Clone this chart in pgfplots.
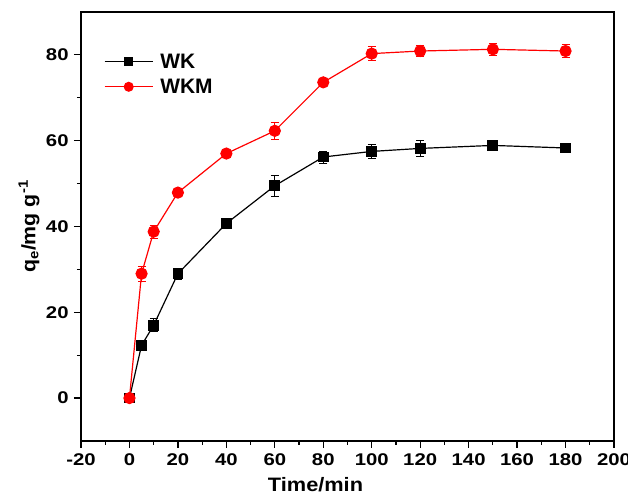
\documentclass[border=0pt]{standalone}
\usepackage{pgfplots}
\pgfplotsset{compat=1.18}
\usepackage{fontspec}
\setmainfont{Liberation Sans}
\begin{document}
\begin{tikzpicture}
\begin{axis}[
  scale only axis, width=533bp, height=429bp,
  xmin=-20, xmax=200, ymin=-10, ymax=90,
  xtick={-20,0,...,200}, ytick={0,20,...,80},
  minor x tick num=1, minor y tick num=1,
  tick align=outside, tick pos=left,
  major tick length=7bp, minor tick length=4bp,
  every tick/.style={black, line width=1.2pt},
  axis line style={line width=1.2pt},
  ticklabel style={font=\fontsize{17}{17}\selectfont\bfseries, xscale=1.2},
  xticklabel style={yshift=-2bp},
  yticklabel style={xshift=-1bp},
  /pgf/number format/assume math mode=true,
  xlabel={\fontsize{19.5}{19.5}\selectfont\bfseries Time/min},
  ylabel={\fontsize{19.5}{19.5}\selectfont\bfseries q\textsubscript{e}/mg g\textsuperscript{-1}},
  xlabel style={at={(axis description cs:0.44,0)}, anchor=base, yshift=-51bp, xscale=1.12},
  ylabel style={at={(axis description cs:0,0.5)}, anchor=center, yshift=52bp, xscale=1.1},
  legend style={draw=none, fill=none, inner sep=0pt, at={(0.043,0.905)}, anchor=north west,
    font=\fontsize{21}{21}\selectfont\bfseries, row sep=7bp,
    nodes={inner sep=1bp},
    /tikz/every odd column/.append style={column sep=6bp}},
  legend cell align=left,
  legend image code/.code={\draw[#1, mark options={scale=0.8}] plot coordinates {(0bp,0bp) (24bp,0bp) (48bp,0bp)};},
  legend image post style={mark repeat=2, mark phase=2},
]
\addplot[black, line width=1.2pt, mark=square*, mark size=4.8bp,
  error bars/.cd, y dir=both, y explicit, error bar style={line width=0.9pt}, error mark options={rotate=90, mark size=4bp, line width=0.9pt}]
  coordinates {
  (0,0) +- (0,0.3)
  (5,12.3) +- (0,0.9)
  (10,17.0) +- (0,1.5)
  (20,29.0) +- (0,1.3)
  (40,40.7) +- (0,1.1)
  (60,49.5) +- (0,2.4)
  (80,56.2) +- (0,1.4)
  (100,57.5) +- (0,1.7)
  (120,58.2) +- (0,1.9)
  (150,58.9) +- (0,0.6)
  (180,58.3) +- (0,0.6)
};
\addlegendentry{\fontsize{21}{21}\selectfont\bfseries WK}
\addplot[red, line width=1.2pt, mark=*, mark size=5.5bp,
  error bars/.cd, y dir=both, y explicit, error bar style={line width=0.9pt}, error mark options={rotate=90, mark size=4bp, line width=0.9pt}]
  coordinates {
  (0,0) +- (0,0.3)
  (5,29.0) +- (0,1.8)
  (10,38.8) +- (0,1.5)
  (20,47.9) +- (0,0.7)
  (40,57.0) +- (0,0.9)
  (60,62.3) +- (0,2.0)
  (80,73.6) +- (0,0.7)
  (100,80.3) +- (0,1.6)
  (120,80.9) +- (0,1.3)
  (150,81.3) +- (0,1.4)
  (180,80.9) +- (0,1.5)
};
\addlegendentry{\fontsize{21}{21}\selectfont\bfseries WKM}
\end{axis}
\path (current axis.south west) ++(-81bp,-55bp) coordinate (bbA);
\path (current axis.north east) ++(14bp,12bp) coordinate (bbB);
\pgfresetboundingbox
\useasboundingbox (bbA) rectangle (bbB);
\end{tikzpicture}
\end{document}
